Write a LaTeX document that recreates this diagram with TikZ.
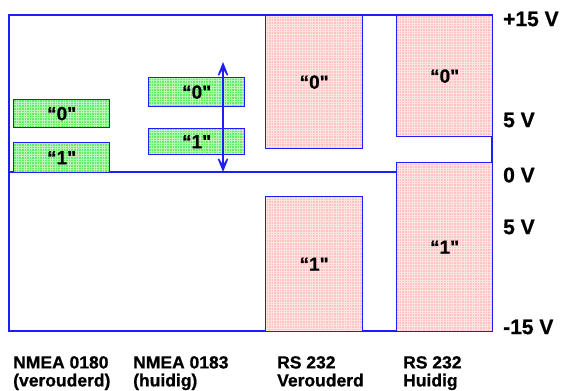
\documentclass[tikz,border=0pt]{standalone}
\usepackage{fontspec}
\setmainfont{Liberation Sans}[BoldFeatures={FakeBold=0.8}]
\usetikzlibrary{arrows.meta}
\definecolor{lineblue}{RGB}{30,30,250}
\definecolor{gfill}{RGB}{95,238,95}
\definecolor{pfill}{RGB}{255,192,192}
\newcommand{\sq}{\textquotedbl}
\tikzset{
  frameline/.style={draw=lineblue, line width=1.3pt},
  gridtex/.style={path picture={\draw[white, line width=0.35pt, opacity=0.55, step=2.6pt]
      (path picture bounding box.south west) grid (path picture bounding box.north east);}},
  gbox/.style={draw=lineblue, line width=1.3pt, fill=gfill, gridtex, inner sep=0pt, anchor=north west,
    font=\bfseries\fontsize{19}{19}\selectfont},
  pbox/.style={draw=lineblue, line width=1.3pt, fill=pfill, gridtex, inner sep=0pt, anchor=north west,
    font=\bfseries\fontsize{19}{19}\selectfont},
  vlabel/.style={anchor=west, inner sep=0pt, font=\bfseries\fontsize{21}{21}\selectfont},
  blabel/.style={anchor=north west, inner sep=0pt, align=left, font=\bfseries\fontsize{17.5}{18}\selectfont},
  darrow/.style={draw=lineblue, line width=1.3pt, {Stealth[length=20pt,width=16pt,inset=13pt]}-{Stealth[length=20pt,width=16pt,inset=13pt]}}
}
\begin{document}
\begin{tikzpicture}[x=1pt,y=-1pt]
\useasboundingbox (0,0) rectangle (563,391);
% frame
\draw[frameline] (9,15) rectangle (492,331);
\coordinate (zl) at (9,172);
\coordinate (zr) at (396,172);
\draw[frameline] (zl) -- (zr);
% RS232 boxes
\node[pbox, minimum width=97pt, minimum height=133pt] (p1) at (265,15) {“0\sq};
\node[pbox, minimum width=96pt, minimum height=121pt] (p2) at (396,15) {“0\sq};
\node[pbox, minimum width=97pt, minimum height=135pt] (p3) at (265,196) {“1\sq};
\node[pbox, minimum width=96pt, minimum height=169pt] (p4) at (396,162) {“1\sq};
% NMEA boxes
\node[gbox, minimum width=96pt, minimum height=28pt] (g1) at (13,99) {“0\sq};
\node[gbox, minimum width=96pt, minimum height=30pt] (g2) at (13,142) {“1\sq};
\node[gbox, minimum width=96pt, minimum height=29pt] (g3) at (148,77) {“0\sq};
\node[gbox, minimum width=96pt, minimum height=26pt] (g4) at (148,128) {“1\sq};
% arrow
\coordinate (atop) at (223,62);
\coordinate (abot) at (223,172);
\draw[darrow] (atop) -- (abot);
% voltage labels
\node[vlabel] (v15) at (503,19) {+15 V};
\node[vlabel] (v5a) at (503,120) {5 V};
\node[vlabel] (v0) at (503,175) {0 V};
\node[vlabel] (v5b) at (503,227) {5 V};
\node[vlabel] (vm15) at (503,327) {-15 V};
% bottom labels
\node[blabel] (l1) at (13,356) {NMEA 0180\\(verouderd)};
\node[blabel] (l2) at (133,356) {NMEA 0183\\(huidig)};
\node[blabel] (l3) at (277,356) {RS 232\\Verouderd};
\node[blabel] (l4) at (403,356) {RS 232\\Huidig};
\end{tikzpicture}
\end{document}
